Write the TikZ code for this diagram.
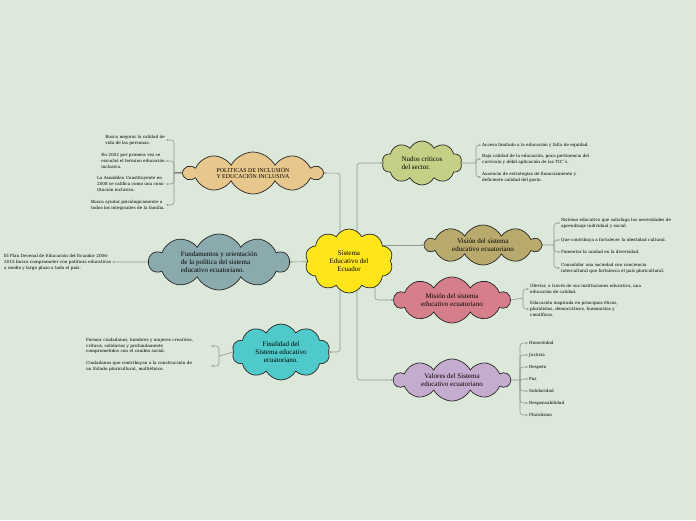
\documentclass[tikz,border=0pt]{standalone}
\usepackage{fontspec}
\setmainfont{Liberation Serif}
\newfontfamily\leaffont{DejaVu Serif}
\usetikzlibrary{shapes.symbols,arrows.meta,backgrounds}
\definecolor{bg}{HTML}{DCE8D9}
\definecolor{cyel}{HTML}{FFE619}
\definecolor{ctan}{HTML}{E8C78C}
\definecolor{cnud}{HTML}{C6CF86}
\definecolor{cvis}{HTML}{B8AA6C}
\definecolor{cmis}{HTML}{D67F8B}
\definecolor{cval}{HTML}{C4ACCE}
\definecolor{cfun}{HTML}{8BAAAD}
\definecolor{ccya}{HTML}{4FC9C9}
\definecolor{lnk}{HTML}{8E9A8E}
\tikzset{
  cl/.style={cloud, cloud puffs=10, cloud puff arc=125, cloud ignores aspect, draw=black!85, line width=0.7pt,
    inner sep=0pt, font=\fontsize{7}{8}\selectfont, align=center},
  leaf/.style={font=\leaffont\fontsize{4.2}{5.8}\selectfont, align=left, inner sep=1pt, anchor=west},
  leafr/.style={leaf, anchor=east},
  link/.style={draw=lnk, line width=0.6pt, rounded corners=3pt, -{Stealth[length=2.2pt,width=2pt]}},
  plain/.style={draw=lnk, line width=0.6pt, rounded corners=3pt},
}
\begin{document}
\begin{tikzpicture}[x=1pt,y=-1pt]
\useasboundingbox (0,0) rectangle (696,520);
% clouds
\node[cl, fill=cyel, minimum width=88pt, minimum height=64pt] (center) at (349,261) {Sistema\\Educativo del\\Ecuador};
\node[cl, fill=ctan, minimum width=138pt, minimum height=42pt, font=\fontsize{5.9}{6.8}\selectfont] (pol) at (253,173) {POLITICAS DE INCLUSIÓN\\Y EDUCACIÓN INCLUSIVA};
\node[cl, fill=cnud, minimum width=80pt, minimum height=44pt, align=left] (nud) at (422,163) {Nudos críticos\\del sector.};
\node[cl, fill=cvis, minimum width=116pt, minimum height=40pt] (vis) at (483,245) {Visión del sistema\\educativo ecuatoriano};
\node[cl, fill=cmis, minimum width=116pt, minimum height=46pt] (mis) at (452,300) {Misión del sistema\\educativo ecuatoriano};
\node[cl, fill=cval, minimum width=116pt, minimum height=42pt] (val) at (452,380) {Valores del Sistema\\educativo ecuatoriano};
\node[cl, fill=cfun, minimum width=140pt, minimum height=56pt, align=left] (fun) at (219,262) {Fundamentos y orientación\\de la política del sistema\\educativo ecuatoriano.};
\node[cl, fill=ccya, minimum width=98pt, minimum height=56pt] (fin) at (281,352) {Finalidad del\\Sistema educativo\\ecuatoriano.};
% leaves: politicas
\node[leafr] (p1) at (166,140) {Busca mejorar  la calidad de\\vida de las personas.};
\node[leafr] (p2) at (166,161) {En 2002 por primera vez se\\escuchó el termino educación\\inclusiva.};
\node[leafr] (p3) at (166,184) {La Asamblea Constituyente en\\2008 se califica como una cons-\\titución inclusiva.};
\node[leafr] (p4) at (166,205) {Busca ayudar psicologicamente a\\todos los integrantes de la familia.};
\coordinate (pj) at (174,173);
% leaves: nudos
\node[leaf] (n1) at (481,145) {Acceso limitado a la educación y falta de equidad.};
\node[leaf] (n2) at (481,159) {Baja calidad de la educación, poca pertinencia del\\currículo y débil aplicación de las TIC´s.};
\node[leaf] (n3) at (481,177) {Ausencia de estrategias de financiamiento y\\deficiente calidad del gasto.};
\coordinate (nj) at (476,163);
% leaves: vision
\node[leaf] (v1) at (560,223) {Sistema educativo que satisfaga las necesidades de\\aprendizaje individual y social.};
\node[leaf] (v2) at (560,240) {Que contribuya a fortalecer la identidad cultural.};
\node[leaf] (v3) at (560,252) {Fomentar la unidad en la diversidad.};
\node[leaf] (v4) at (560,268) {Consolidar una sociedad con conciencia\\intercultural que fortalezca el país pluricultural.};
\coordinate (vj) at (554,245);
% leaves: mision
\node[leaf] (m1) at (529,289) {Ofertar, a través de sus instituciones educativa, una\\educación de calidad.};
\node[leaf] (m2) at (529,309) {Educación inspirada en principios éticos,\\pluralistas, democráticos, humanistas y\\científicos.};
\coordinate (mj) at (523,298);
% leaves: valores
\node[leaf] (a1) at (528,343) {Honestidad};
\node[leaf] (a2) at (528,355) {Justicia};
\node[leaf] (a3) at (528,367) {Respeto};
\node[leaf] (a4) at (528,379) {Paz};
\node[leaf] (a5) at (528,391) {Solidaridad};
\node[leaf] (a6) at (528,403) {Responsabilidad};
\node[leaf] (a7) at (528,415) {Pluralismo};
\coordinate (aj) at (520,380);
% leaves: finalidad
\node[leaf, text width=124pt] (f1) at (85,346) {Formar ciudadanos, hombres y mujeres creativos,\\críticos, solidarios y profundamente\\comprometidos con el cambio social.};
\node[leaf, text width=124pt] (f2) at (85,366) {Ciudadanos que contribuyan a la construcción de\\un Estado pluricultural, multiétnico.};
\coordinate (fj) at (219,356);
% leaf: fundamentos
\node[leaf] (d1) at (3,262) {El Plan Decenal de Educación del Ecuador 2006-\\2015 busca comprometer con políticas educativas\\a medio y largo plazo a todo el país.};
\begin{scope}[on background layer]
\fill[bg] (0,0) rectangle (696,520);
% center links
\draw[link] ([xshift=-9pt]center.center) |- (pol.east);
\draw[link] ([xshift=-9pt]center.center) |- (fin.east);
\draw[link] ([xshift=8pt]center.center) |- (nud.west);
\draw[link] ([xshift=8pt]center.center) |- (val.west);
\draw[link] ([xshift=26pt]center.center) |- (mis.west);
\draw[link] (center.center |- vis.west) -- (vis.west);
\draw[link] (center) -- (fun.east);
% politicas
\draw[plain, draw=black!70, line width=1pt] (pol.west) -- (pj);
\foreach \l in {p1,p2,p3,p4} \draw[link] (pj) |- (\l.east);
% nudos
\draw[plain] (nud.east) -- (nj);
\foreach \l in {n1,n2,n3} \draw[link] (nj) |- (\l.west);
% vision
\draw[plain] (vis.east) -- (vj);
\foreach \l in {v1,v2,v3,v4} \draw[link] (vj) |- (\l.west);
% mision
\draw[plain] (mis.east) -- (mj);
\foreach \l in {m1,m2} \draw[link] (mj) |- (\l.west);
% valores
\draw[plain] (val.east) -- (aj);
\foreach \l in {a1,a2,a3,a4,a5,a6,a7} \draw[link] (aj) |- (\l.west);
% finalidad
\draw[plain] (fin.west) -- (fj);
\foreach \l in {f1,f2} \draw[link] (fj) |- (\l.east);
% fundamentos
\draw[link] (fun.west) -- (d1.east);
\end{scope}
\end{tikzpicture}
\end{document}
